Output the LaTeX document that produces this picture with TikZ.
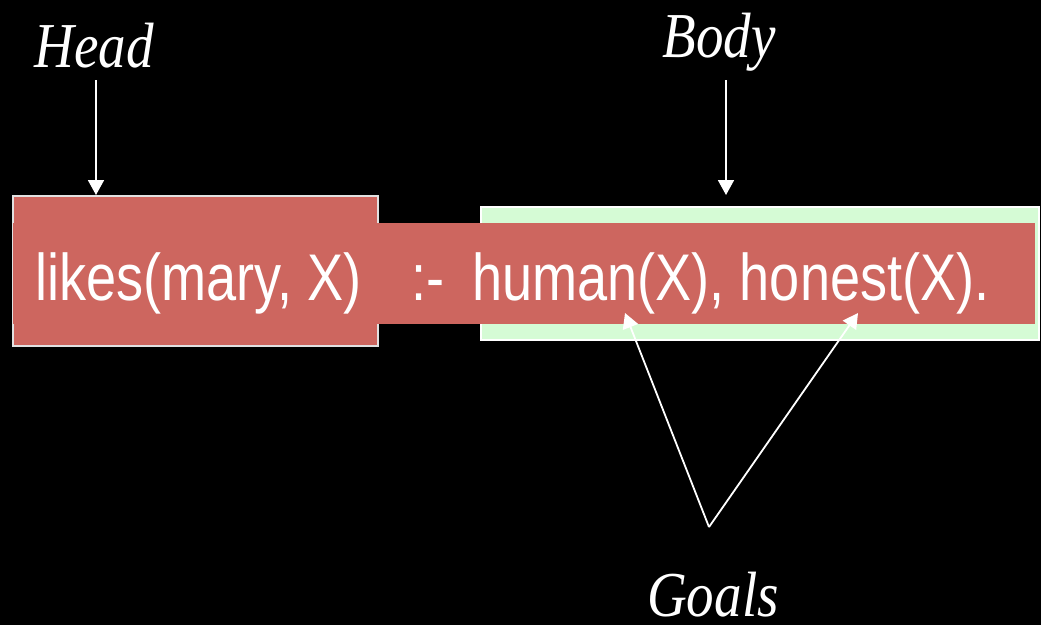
\documentclass[tikz,border=0pt]{standalone}
\usepackage{fontspec}
\usetikzlibrary{arrows.meta,calc}
\newfontfamily\codefont[FakeStretch=0.82]{Liberation Sans}
\newfontfamily\lblfont[FakeStretch=0.86]{Liberation Serif}
\definecolor{clausered}{RGB}{205,102,95}
\definecolor{bodygreen}{RGB}{213,251,213}
\definecolor{headedge}{RGB}{225,225,225}
\begin{document}
\begin{tikzpicture}[x=1pt,y=-1pt,
  box/.style={line width=1.6pt, inner sep=0pt, outer sep=0pt, anchor=north west},
  code/.style={text=white, font=\codefont\fontsize{66}{66}\selectfont, inner sep=0pt, anchor=base west},
  lbl/.style={text=white, font=\lblfont\itshape\fontsize{64}{64}\selectfont, inner sep=0pt, anchor=base},
  pointer/.style={draw=white, line width=1.8pt, -{Triangle[length=15pt,width=16pt]}}]
\fill[black] (0,0) rectangle (1041,625);
\useasboundingbox (0,0) rectangle (1041,625);
% boxes
\node[box, fill=clausered, draw=headedge, minimum width=365pt, minimum height=150pt] (head) at (13,196) {};
\node[box, fill=bodygreen, draw=white, minimum width=558pt, minimum height=133pt] (body) at (481,207) {};
\node[box, fill=clausered, minimum width=1022pt, minimum height=101pt] (strip) at (13,223) {};
% clause text
\node[code] (t1) at (35,300) {likes(mary, X)};
\node[code] (t2) at (411,300) {:-};
\node[code] (t3) at (472,300) {human(X), honest(X).};
% labels
\node[lbl] (headlbl) at (94,67) {Head};
\node[lbl] (bodylbl) at (719,57) {Body};
\node[lbl] (goalslbl) at (713,616) {Goals};
% connectors
\coordinate (headfrom) at (96,80);
\coordinate (headto) at (96,195);
\coordinate (bodyfrom) at (726,80);
\coordinate (bodyto) at (726,195);
\coordinate (apex) at (709,527);
\coordinate (goal1) at (625,313);
\coordinate (goal2) at (858,313);
\draw[pointer] (headfrom) -- (headto);
\draw[pointer] (bodyfrom) -- (bodyto);
\draw[pointer] (apex) -- (goal1);
\draw[pointer] (apex) -- (goal2);
\end{tikzpicture}
\end{document}
